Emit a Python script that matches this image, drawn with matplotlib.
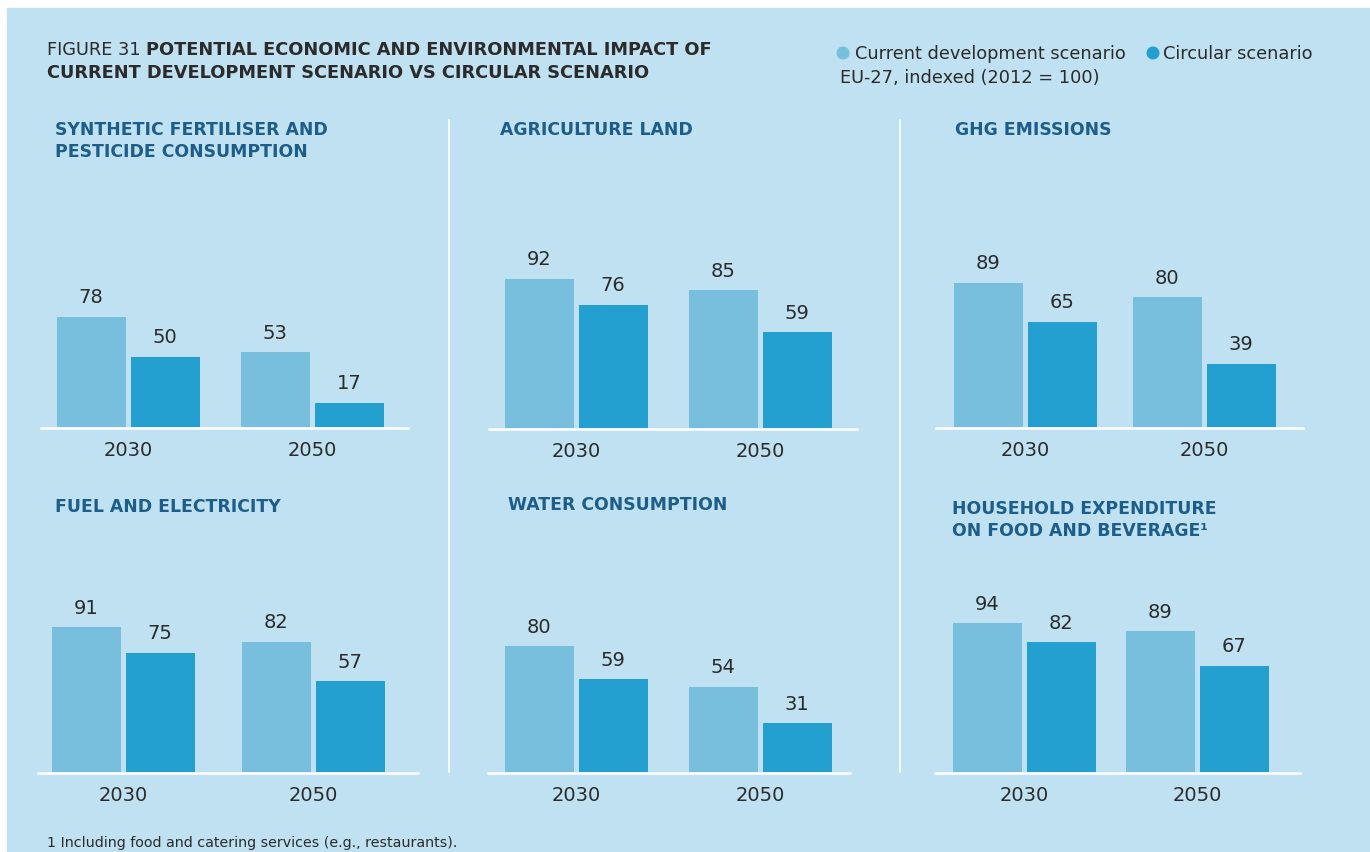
import matplotlib
matplotlib.use('Agg')
import matplotlib.pyplot as plt
from matplotlib.patches import Rectangle

plt.rcParams['font.family'] = ['DejaVu Sans']

# data
years = ['2030', '2050']
titles = ['SYNTHETIC FERTILISER AND\nPESTICIDE CONSUMPTION',
          'AGRICULTURE LAND',
          'GHG EMISSIONS',
          'FUEL AND ELECTRICITY',
          'WATER CONSUMPTION',
          'HOUSEHOLD EXPENDITURE\nON FOOD AND BEVERAGE\u00b9']
current = [[78, 53], [92, 85], [89, 80], [91, 82], [80, 54], [94, 89]]
circular = [[50, 17], [76, 59], [65, 39], [75, 57], [59, 31], [82, 67]]

W, H = 1370, 852
bg = '#bfe1f1'
c_light = '#78bedd'
c_dark = '#23a0cf'
c_title = '#1c5d8a'
c_text = '#2b2b2b'

# panel layout in pixels:
# group centre 2030, group centre 2050, baseline y, px per unit, title x, title top y, axis line start/end
layout = [(128, 312, 427, 1.41, 55, 121, 41, 408),
          (576, 760, 428, 1.62, 500, 121, 489, 857),
          (1025, 1204, 427, 1.62, 955, 121, 936, 1303),
          (123, 313, 772, 1.59, 55, 498, 38, 418),
          (576, 760, 772, 1.57, 508, 496, 488, 850),
          (1024, 1197, 772, 1.58, 952, 500, 935, 1300)]

fig = plt.figure(figsize=(W / 100, H / 100), dpi=100)
fig.patch.set_facecolor('white')

# background layer in pixel coords
bgax = fig.add_axes([0, 0, 1, 1])
bgax.set_xlim(0, W)
bgax.set_ylim(H, 0)
bgax.axis('off')
bgax.add_patch(Rectangle((7, 8), W - 7, H - 8, color=bg, zorder=0))
for x in (449, 900):
    bgax.plot([x, x], [120, 772], color='white', lw=1.2, zorder=1)

t = bgax.text(47, 55, 'FIGURE 31', fontsize=12.8, color=c_text, va='baseline')
fig.canvas.draw()
x_after = t.get_window_extent().x1 + 5
bgax.text(x_after, 55, 'POTENTIAL ECONOMIC AND ENVIRONMENTAL IMPACT OF',
          fontsize=12.8, fontweight='bold', color=c_text, va='baseline')
bgax.text(47, 78, 'CURRENT DEVELOPMENT SCENARIO VS CIRCULAR SCENARIO',
          fontsize=12.8, fontweight='bold', color=c_text, va='baseline')

bgax.scatter([843, 1153], [53, 53], s=70, color=[c_light, c_dark], zorder=3)
bgax.text(855, 59, 'Current development scenario', fontsize=12.8, color=c_text, va='baseline')
bgax.text(1163, 59, 'Circular scenario', fontsize=12.8, color=c_text, va='baseline')
bgax.text(840, 83, 'EU-27, indexed (2012 = 100)', fontsize=12.8, color=c_text, va='baseline')
bgax.text(47, 847, '1 Including food and catering services (e.g., restaurants).',
          fontsize=10.3, color=c_text, va='baseline')

for i in range(6):
    c0, c1, base, s, tx, ty, lx0, lx1 = layout[i]
    d = c1 - c0
    left = c0 - 0.5 * d
    ax = fig.add_axes([left / W, 1 - base / H, 2 * d / W, 100 * s / H])
    ax.set_xlim(-0.5, 1.5)
    ax.set_ylim(0, 100)
    ax.patch.set_alpha(0)
    for sp in ax.spines.values():
        sp.set_visible(False)
    ax.set_yticks([])
    ax.set_xticks([0, 1])
    ax.set_xticklabels(years, fontsize=14, color=c_text)
    ax.tick_params(axis='x', length=0, pad=10)
    w = 69 / d
    off = 37 / d
    b1 = ax.bar([0 - off, 1 - off], current[i], width=w, color=c_light)
    b2 = ax.bar([0 + off, 1 + off], circular[i], width=w, color=c_dark)
    for bars in (b1, b2):
        for r in bars:
            ax.annotate(str(int(r.get_height())), (r.get_x() + r.get_width() / 2, r.get_height()),
                        xytext=(0, 7), textcoords='offset points', ha='center', va='bottom',
                        fontsize=14, color=c_text)
    bgax.plot([lx0, lx1], [base + 1, base + 1], color='white', lw=1.8, zorder=2)
    bgax.text(tx, ty, titles[i], fontsize=12.4, fontweight='bold', color=c_title,
              va='top', linespacing=1.3)

fig.savefig('out.png', dpi=100)
